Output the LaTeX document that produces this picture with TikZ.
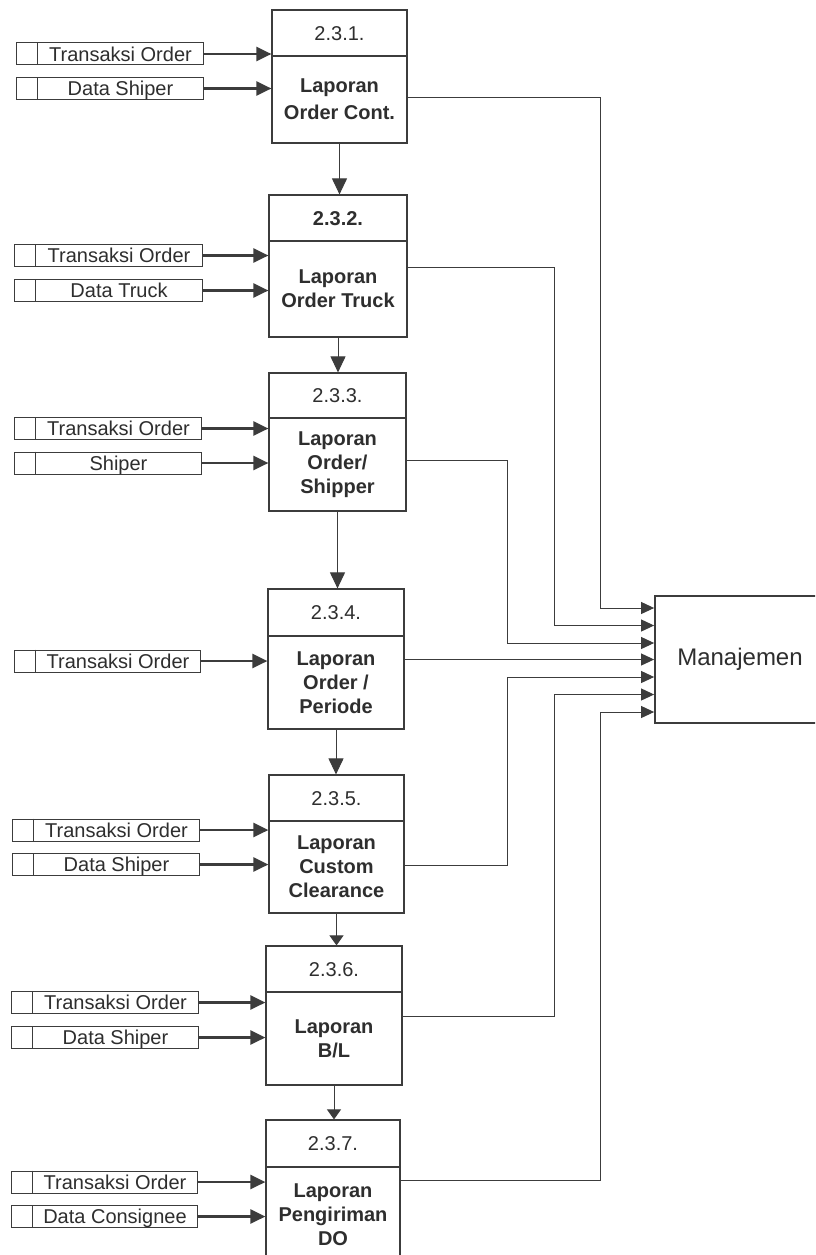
\documentclass[tikz,border=0pt]{standalone}
\usepackage{fontspec}
\setmainfont{Liberation Sans}
\usetikzlibrary{arrows.meta}
\definecolor{ink}{HTML}{2E2E2E}
\definecolor{wire}{HTML}{3C3C3C}

% data store: name, left, right, centre y, text
\newcommand\datastore[5]{%
  \node[storebox, minimum width={(#3-#2)*1pt}] (#1) at ({(#2+#3)/2},#4) {};
  \draw[storeline] ([xshift=22pt]#1.north west) -- ([xshift=22pt]#1.south west);
  \node[storetext] (#1-t) at ({(#2+22+#3)/2},#4) {#5};
}
% process: name, left, top, right, bottom, divider y, number, label
\newcommand\procstep[8]{%
  \node[procbox, minimum width={(#4-#2)*1pt}, minimum height={(#5-#3)*1pt}] (#1) at ({(#2+#4)/2},{(#3+#5)/2}) {};
  \draw[boxline] (#1.west |- 0,#6) -- (#1.east |- 0,#6);
  \node[numtext] (#1-num) at ({(#2+#4)/2},{(#3+#6)/2}) {#7};
  \node[labtext] (#1-lab) at ({(#2+#4)/2},{(#6+#5)/2}) {#8};
}

\begin{document}
\begin{tikzpicture}[x=1pt,y=-1pt,
  storebox/.style={draw=wire, line width=1pt, minimum height=22pt, inner sep=0pt},
  storeline/.style={draw=wire, line width=1pt},
  storetext/.style={inner sep=0pt, text=ink, font=\fontsize{20}{24}\selectfont, text height=14.3pt, text depth=0pt},
  procbox/.style={draw=wire, line width=1.2pt, inner sep=0pt},
  boxline/.style={draw=wire, line width=1.1pt},
  numtext/.style={inner sep=0pt, text=ink, font=\fontsize{20}{24}\selectfont, text height=14.3pt, text depth=0pt},
  labtext/.style={inner sep=0pt, text=ink, align=center, font=\fontsize{20}{24}\selectfont\bfseries},
  inarrow/.style={draw=wire, line width=2.4pt, -{Triangle[length=15pt,width=14pt]}},
  downarrow/.style={draw=wire, line width=1pt, -{Triangle[length=16pt,width=15pt]}},
  shortarrow/.style={draw=wire, line width=1pt, -{Triangle[length=10pt,width=14pt]}},
  outwire/.style={draw=wire, line width=1pt, -{Triangle[length=13pt,width=12pt]}},
  mgmtbox/.style={draw=wire, line width=1.8pt, inner sep=0pt, text=ink, font=\fontsize{24}{28}\selectfont}
]
\fill[white] (0,0) rectangle (815,1255);
\useasboundingbox (0,0) rectangle (815,1255);
\clip (0,0) rectangle (815,1255);

% processes
\procstep{p1}{272}{10}{407}{143}{56}{2.3.1.}{Laporan\\[3pt]Order Cont.}
\procstep{p2}{269}{195}{407}{337}{241}{\bfseries 2.3.2.}{Laporan\\Order Truck}
\procstep{p3}{269}{373}{406}{511}{418}{2.3.3.}{Laporan\\Order/\\Shipper}
\procstep{p4}{268}{589}{404}{729}{636}{2.3.4.}{Laporan\\Order /\\Periode}
\procstep{p5}{269}{775}{404}{913}{821}{2.3.5.}{Laporan\\Custom\\Clearance}
\procstep{p6}{266}{946}{402}{1085}{992}{2.3.6.}{Laporan\\B/L}
\procstep{p7}{266}{1120}{400}{1262}{1167}{2.3.7.}{Laporan\\Pengiriman\\DO}

% management
\node[mgmtbox, minimum width=170pt, minimum height=127pt] (mgmt) at (740,659.5) {Manajemen};

% data stores
\datastore{s1a}{16}{203}{54}{Transaksi Order}
\datastore{s1b}{16}{203}{88.5}{Data Shiper}
\datastore{s2a}{14}{202}{255.5}{Transaksi Order}
\datastore{s2b}{14}{202}{290.5}{Data Truck}
\datastore{s3a}{14}{201}{428.5}{Transaksi Order}
\datastore{s3b}{14}{201}{463}{Shiper}
\datastore{s4a}{14}{200}{661}{Transaksi Order}
\datastore{s5a}{12}{199}{830}{Transaksi Order}
\datastore{s5b}{12}{199}{864.5}{Data Shiper}
\datastore{s6a}{11}{198}{1002.5}{Transaksi Order}
\datastore{s6b}{11}{198}{1037.5}{Data Shiper}
\datastore{s7a}{11}{197}{1182}{Transaksi Order}
\datastore{s7b}{11}{197}{1216.5}{Data Consignee}

% inputs into processes
\foreach \s/\p in {s1a/p1,s1b/p1,s2a/p2,s2b/p2,s3a/p3,s3b/p3,s4a/p4,s5a/p5,s5b/p5,s6a/p6,s6b/p6,s7a/p7,s7b/p7}
  \draw[inarrow] (\s.east) -- (\p.west |- \s.east);

% flow between processes
\draw[downarrow] (p1.south) -- (p1.south |- p2.north);
\draw[downarrow] (p2.south) -- (p2.south |- p3.north);
\draw[downarrow] (p3.south) -- (p3.south |- p4.north);
\draw[downarrow] (p4.south) -- (p4.south |- p5.north);
\draw[shortarrow] (p5.south) -- (p5.south |- p6.north);
\draw[shortarrow] (p6.south) -- (p6.south |- p7.north);

% reports to management
\draw[outwire] (p1.east |- 0,97)   -| (600,608) -- (mgmt.west |- 0,608);
\draw[outwire] (p2.east |- 0,267)  -| (554,625.5) -- (mgmt.west |- 0,625.5);
\draw[outwire] (p3.east |- 0,460)  -| (507,643) -- (mgmt.west |- 0,643);
\draw[outwire] (p4.east |- 0,659.5) -- (mgmt.west |- 0,659.5);
\draw[outwire] (p5.east |- 0,865)  -| (507,677) -- (mgmt.west |- 0,677);
\draw[outwire] (p6.east |- 0,1016) -| (554,694.5) -- (mgmt.west |- 0,694.5);
\draw[outwire] (p7.east |- 0,1180) -| (600,712) -- (mgmt.west |- 0,712);
\end{tikzpicture}
\end{document}
